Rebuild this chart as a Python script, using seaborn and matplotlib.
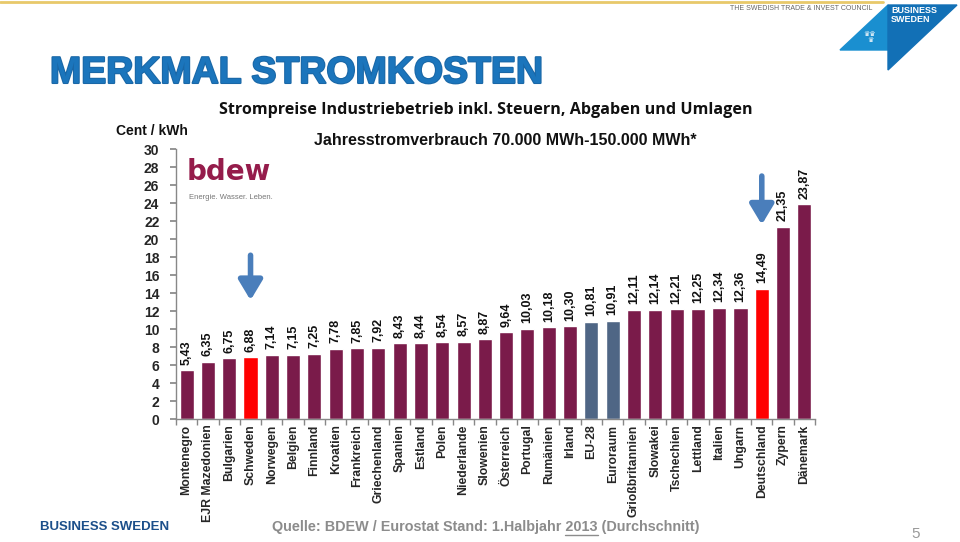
import numpy as np
import pandas as pd
import seaborn as sns
import matplotlib
matplotlib.use('Agg')
import matplotlib.pyplot as plt
import matplotlib.patheffects as pe
from matplotlib.patches import Polygon

# data
countries = ["Montenegro", "EJR Mazedonien", "Bulgarien", "Schweden", "Norwegen",
             "Belgien", "Finnland", "Kroatien", "Frankreich", "Griechenland",
             "Spanien", "Estland", "Polen", "Niederlande", "Slowenien",
             "Österreich", "Portugal", "Rumänien", "Irland", "EU-28",
             "Euroraum", "Grioßbritannien", "Slowakei", "Tschechien", "Lettland",
             "Italien", "Ungarn", "Deutschland", "Zypern", "Dänemark"]
prices = [5.43, 6.35, 6.75, 6.88, 7.14, 7.15, 7.25, 7.78, 7.85, 7.92,
          8.43, 8.44, 8.54, 8.57, 8.87, 9.64, 10.03, 10.18, 10.30, 10.81,
          10.91, 12.11, 12.14, 12.21, 12.25, 12.34, 12.36, 14.49, 21.35, 23.87]
highlight_red = ["Schweden", "Deutschland"]
highlight_blue = ["EU-28", "Euroraum"]
y_ticks = list(range(0, 31, 2))

MAROON = "#7a1b4a"
RED = "#ff0000"
SLATE = "#4f6685"
ARROW = "#4a7ebb"

sns.set_theme(style="white", rc={"axes.spines.right": False, "axes.spines.top": False})
plt.rcParams['font.family'] = ['Liberation Sans', 'DejaVu Sans']

df = pd.DataFrame({"land": countries, "preis": prices})
palette = {c: (RED if c in highlight_red else SLATE if c in highlight_blue else MAROON)
           for c in countries}

fig = plt.figure(figsize=(9.6, 5.42), dpi=100)
ax = fig.add_axes([0.1833, 0.2269, 0.849 - 0.1833, 0.725 - 0.2269])

sns.barplot(data=df, x="land", y="preis", hue="land", palette=palette,
            order=countries, legend=False, width=0.66, saturation=1, ax=ax)

for container, val in zip(ax.containers, prices):
    ax.bar_label(container, labels=[f"{val:.2f}".replace(".", ",")],
                 rotation=90, padding=4, fontsize=9, fontweight='bold', color='#111111')

ax.set_xlim(-0.5, len(countries) - 0.5)
ax.set_ylim(0, 30)
ax.set_yticks(y_ticks)
ax.set_yticklabels([str(t) for t in y_ticks], fontsize=10, fontweight='bold')
ax.set_xticks(range(len(countries)))
ax.set_xticklabels(countries, rotation=90, fontsize=8.8, fontweight='bold')
ax.set_xticks(np.arange(-0.5, len(countries)), minor=True)
ax.tick_params(axis='x', which='major', length=0, pad=4)
ax.tick_params(axis='x', which='minor', length=4, color='#888888', bottom=True)
ax.tick_params(axis='y', length=4, color='#888888', left=True, pad=8)
ax.set_xlabel("")
ax.set_ylabel("")
for s in ["left", "bottom"]:
    ax.spines[s].set_color('#888888')
    ax.spines[s].set_linewidth(1)

# arrows pointing at Schweden and Deutschland
for name, y0, y1 in [("Schweden", 18.2, 13.2), ("Deutschland", 27.0, 21.6)]:
    i = countries.index(name)
    ax.annotate("", xy=(i, y1), xytext=(i, y0),
                arrowprops=dict(arrowstyle="-|>,head_length=1.0,head_width=0.6",
                                color=ARROW, lw=4, shrinkA=0, shrinkB=0))

# bdew logo as text
fig.text(187 / 960, 1 - 180 / 542, "bdew", fontsize=20, color="#951c4b",
         fontweight='bold', va='baseline', ha='left', family=['DejaVu Sans'])
fig.text(189 / 960, 1 - 197 / 542, "Energie. Wasser. Leben.", fontsize=5.5,
         color="#777777", va='center', ha='left')

# titles and labels
fig.text(50 / 960, 1 - 73 / 542, "MERKMAL STROMKOSTEN", fontsize=27, fontweight='bold',
         color="#1b75bc", va='center', ha='left',
         path_effects=[pe.withStroke(linewidth=1.5, foreground="#1a67a6")])
fig.text(486 / 960, 1 - 110 / 542,
         "Strompreise Industriebetrieb inkl. Steuern, Abgaben und Umlagen",
         fontsize=11.65, fontweight='bold', color="#111111", va='center', ha='center',
         family=['Open Sans', 'DejaVu Sans'])
fig.text(505 / 960, 1 - 140 / 542, "Jahresstromverbrauch 70.000 MWh-150.000 MWh*",
         fontsize=11.5, fontweight='bold', color="#111111", va='center', ha='center')
fig.text(116 / 960, 1 - 131 / 542, "Cent / kWh", fontsize=10, fontweight='bold',
         color="#111111", va='center', ha='left')

# header band and logo
fig.add_artist(plt.Line2D([0, 0.92], [1 - 2 / 542, 1 - 2 / 542], color="#e8c96a", lw=2,
                          transform=fig.transFigure))
fig.text(872 / 960, 1 - 8 / 542, "THE SWEDISH TRADE & INVEST COUNCIL", fontsize=5,
         color="#666666", va='center', ha='right')
fig.add_artist(Polygon([(888 / 960, 1 - 5 / 542), (840 / 960, 1 - 50 / 542),
                        (888 / 960, 1 - 50 / 542)],
                       closed=True, transform=fig.transFigure, color="#1a8fd0"))
fig.add_artist(Polygon([(888 / 960, 1 - 5 / 542), (957 / 960, 1 - 5 / 542),
                        (888 / 960, 1 - 70 / 542)],
                       closed=True, transform=fig.transFigure, color="#1270b6"))
fig.text(891 / 960, 1 - 15 / 542, "BUSINESS\nSWEDEN", fontsize=6.5, fontweight='bold',
         color="white", va='center', ha='left', linespacing=0.9)
fig.text(870 / 960, 1 - 37 / 542, "♛♛\n♛", fontsize=5, color="white",
         va='center', ha='center', linespacing=0.9, family=['DejaVu Sans'])

# footer
fig.text(40 / 960, 1 - 527 / 542, "BUSINESS SWEDEN", fontsize=9.5, fontweight='bold',
         color="#1c4f8a", va='center', ha='left')
src_pre = "Quelle: BDEW / Eurostat Stand: 1.Halbjahr "
src = fig.text(272 / 960, 1 - 527 / 542, src_pre + "2013 (Durchschnitt)",
               fontsize=10.35, fontweight='bold', color="#8c8c8c", va='center', ha='left')
fig.canvas.draw()
r = fig.canvas.get_renderer()
tmp_pre = fig.text(0, 0, src_pre, fontsize=10.35, fontweight='bold')
tmp_yr = fig.text(0, 0, src_pre + "2013", fontsize=10.35, fontweight='bold')
x0 = 272 + tmp_pre.get_window_extent(r).width
x1 = 272 + tmp_yr.get_window_extent(r).width
tmp_pre.remove()
tmp_yr.remove()
fig.add_artist(plt.Line2D([x0 / 960, x1 / 960], [1 - 535 / 542, 1 - 535 / 542],
                          color="#8c8c8c", lw=1, transform=fig.transFigure))
fig.text(916 / 960, 1 - 534 / 542, "5", fontsize=11, color="#999999",
         va='center', ha='center')

fig.savefig("out.png", dpi=100, facecolor="white")
